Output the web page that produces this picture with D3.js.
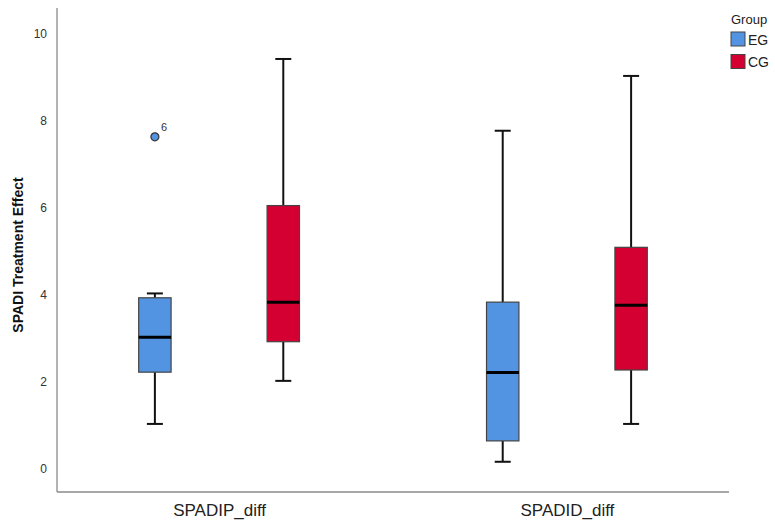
<!DOCTYPE html>
<html>
<head>
<meta charset="utf-8">
<script src="https://cdn.jsdelivr.net/npm/d3@7"></script>
<style>
  html, body { margin: 0; padding: 0; background: #fff; }
  svg { display: block; font-family: "Liberation Sans", Arial, sans-serif; }
</style>
</head>
<body>
<svg id="chart" width="775" height="525"></svg>
<script>
// ---- Data ----
const categories = ["SPADIP_diff", "SPADID_diff"];
const groups = ["EG", "CG"];
const groupColors = ["#5294e2", "#d50032"];
// five-number summaries per category, per group (min, q1, median, q3, max)
const egMin    = [1.02, 0.15];
const egQ1     = [2.21, 0.63];
const egMedian = [3.01, 2.20];
const egQ3     = [3.92, 3.82];
const egMax    = [4.02, 7.76];
const cgMin    = [2.01, 1.02];
const cgQ1     = [2.91, 2.26];
const cgMedian = [3.82, 3.75];
const cgQ3     = [6.04, 5.08];
const cgMax    = [9.41, 9.02];
// outliers: category, group, value, case label
const outlierCategory = ["SPADIP_diff"];
const outlierGroup = ["EG"];
const outlierValue = [7.62];
const outlierLabel = ["6"];
const yTicks = [0, 2, 4, 6, 8, 10];
const yLabel = "SPADI Treatment Effect";
const legendTitle = "Group";

// ---- Build table ----
const boxes = [];
categories.forEach((c, i) => {
  boxes.push({cat: c, group: "EG", min: egMin[i], q1: egQ1[i], med: egMedian[i], q3: egQ3[i], max: egMax[i]});
  boxes.push({cat: c, group: "CG", min: cgMin[i], q1: cgQ1[i], med: cgMedian[i], q3: cgQ3[i], max: cgMax[i]});
});
const outliers = outlierValue.map((v, i) => ({cat: outlierCategory[i], group: outlierGroup[i], value: v, label: outlierLabel[i]}));

// ---- Layout ----
const plotLeft = 57, plotRight = 729, plotTop = 8, plotBottom = 492;
const svg = d3.select("#chart");

const x = d3.scalePoint().domain(categories).range([plotLeft, plotRight]).padding(0.466);
const xg = d3.scalePoint().domain(groups).range([-64.2, 64.2]);
const color = d3.scaleOrdinal().domain(groups).range(groupColors);
const y = d3.scaleLinear().domain([0, 10]).range([468.3, 33.3]);
const boxW = 32.4, capW = 16;

// Axes
const yAxis = d3.axisLeft(y).tickValues(yTicks).tickSize(0).tickPadding(10).tickFormat(d3.format("d"));
const gy = svg.append("g").attr("transform", `translate(${plotLeft},0)`).call(yAxis);
gy.select(".domain").remove();
gy.selectAll("text").attr("font-size", 12).attr("fill", "#333").attr("font-family", "Liberation Sans, Arial, sans-serif");

const xAxis = d3.axisBottom(x).tickSize(0).tickPadding(12);
const gx = svg.append("g").attr("transform", `translate(0,${plotBottom})`).call(xAxis);
gx.select(".domain").remove();
gx.selectAll("text").attr("font-size", 17).attr("fill", "#222").attr("font-family", "Liberation Sans, Arial, sans-serif");

// axis lines
svg.append("line").attr("x1", plotLeft).attr("x2", plotLeft).attr("y1", plotTop).attr("y2", plotBottom)
  .attr("stroke", "#8a8a8a").attr("stroke-width", 1.3);
svg.append("line").attr("x1", plotLeft).attr("x2", plotRight).attr("y1", plotBottom).attr("y2", plotBottom)
  .attr("stroke", "#8a8a8a").attr("stroke-width", 1.3);

// y label
svg.append("text")
  .attr("transform", `translate(23,255) rotate(-90)`)
  .attr("text-anchor", "middle")
  .attr("font-size", 14).attr("font-weight", "bold").attr("fill", "#111")
  .text(yLabel);

// Boxes
const bg = svg.append("g").selectAll("g").data(boxes).join("g")
  .attr("transform", d => `translate(${x(d.cat) + xg(d.group)},0)`);

bg.append("line").attr("x1", 0).attr("x2", 0).attr("y1", d => y(d.max)).attr("y2", d => y(d.q3))
  .attr("stroke", "#111").attr("stroke-width", 2);
bg.append("line").attr("x1", 0).attr("x2", 0).attr("y1", d => y(d.q1)).attr("y2", d => y(d.min))
  .attr("stroke", "#111").attr("stroke-width", 2);
bg.append("line").attr("x1", -capW / 2).attr("x2", capW / 2).attr("y1", d => y(d.max)).attr("y2", d => y(d.max))
  .attr("stroke", "#111").attr("stroke-width", 2);
bg.append("line").attr("x1", -capW / 2).attr("x2", capW / 2).attr("y1", d => y(d.min)).attr("y2", d => y(d.min))
  .attr("stroke", "#111").attr("stroke-width", 2);
bg.append("rect").attr("x", -boxW / 2).attr("width", boxW)
  .attr("y", d => y(d.q3)).attr("height", d => y(d.q1) - y(d.q3))
  .attr("fill", d => color(d.group)).attr("stroke", "#444").attr("stroke-width", 1.2);
bg.append("line").attr("x1", -boxW / 2).attr("x2", boxW / 2).attr("y1", d => y(d.med)).attr("y2", d => y(d.med))
  .attr("stroke", "#000").attr("stroke-width", 3);

// Outliers
const og = svg.append("g").selectAll("g").data(outliers).join("g")
  .attr("transform", d => `translate(${x(d.cat) + xg(d.group)},${y(d.value)})`);
og.append("circle").attr("r", 4).attr("fill", d => color(d.group)).attr("stroke", "#333").attr("stroke-width", 1.2);
og.append("text").attr("x", 6).attr("y", -6).attr("font-size", 11).attr("fill", "#333").text(d => d.label);

// Legend
const lg = svg.append("g");
lg.append("text").attr("x", 731).attr("y", 24).attr("font-size", 13).attr("fill", "#222").text(legendTitle);
const li = lg.selectAll("g.item").data(groups).join("g").attr("class", "item")
  .attr("transform", (d, i) => `translate(731,${32 + i * 22.5})`);
li.append("rect").attr("width", 14).attr("height", 14).attr("fill", d => color(d)).attr("stroke", "#444").attr("stroke-width", 1);
li.append("text").attr("x", 17).attr("y", 12.5).attr("font-size", 14).attr("fill", "#222").text(d => d);
</script>
</body>
</html>
